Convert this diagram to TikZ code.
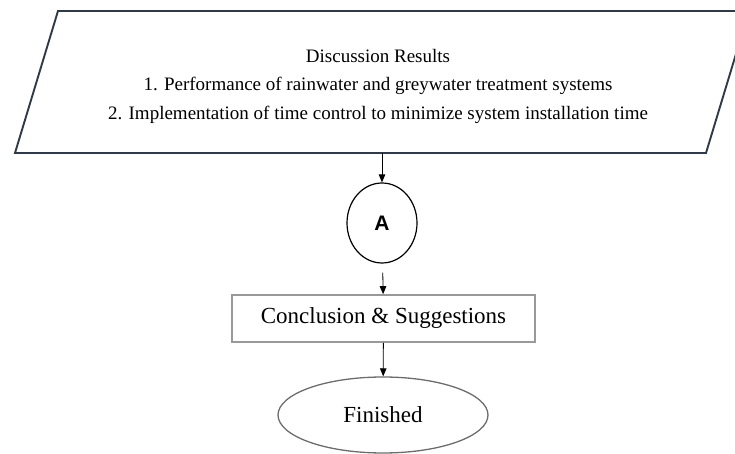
\documentclass[tikz,border=0pt]{standalone}
\usepackage{fontspec}
\setmainfont{Liberation Serif}
\newfontfamily\labelsans{Liberation Sans}
\usetikzlibrary{positioning,arrows.meta,calc,shapes.geometric}

\begin{document}
\begin{tikzpicture}[x=1pt,y=1pt,
  flowarrow/.style={-{Triangle[length=8pt,width=6.5pt]},line width=0.8pt},
  connector/.style={draw,ellipse,line width=1.2pt,minimum width=70pt,minimum height=80pt,inner sep=0pt},
  processbox/.style={draw=gray!80,line width=1.6pt,rectangle,minimum width=303pt,minimum height=47pt,inner sep=0pt},
  terminal/.style={draw=gray!85!black,ellipse,line width=1.3pt,minimum width=210pt,minimum height=76pt,inner sep=0pt}]
\useasboundingbox (0,0) rectangle (735,454);
\clip (0,0) rectangle (735,454);
% input/output block
\draw[line width=1.9pt,draw={rgb,255:red,47;green,58;blue,70}] (58,443) -- (749,443) -- (706,301) -- (15,301) -- cycle;
\node[align=center,font=\fontsize{19}{28.5}\selectfont] (disc) at (378,368) {Discussion Results\\1. Performance of rainwater and greywater treatment systems\\2. Implementation of time control to minimize system installation time};
\coordinate (discbot) at (382,301);
\node[connector,font=\labelsans\bfseries\fontsize{21}{24}\selectfont] (conA) at (382,231) {A};
\node[processbox,font=\fontsize{23}{26}\selectfont] (concl) at (383.5,135.5) {Conclusion \& Suggestions};
\node[terminal,font=\fontsize{23}{26}\selectfont] (fin) at (383,39) {Finished};
\draw[flowarrow] (discbot) -- (conA);
\draw[flowarrow,shorten <=9pt] (conA) -- (concl);
\draw[flowarrow] (concl) -- (fin);
\end{tikzpicture}
\end{document}
